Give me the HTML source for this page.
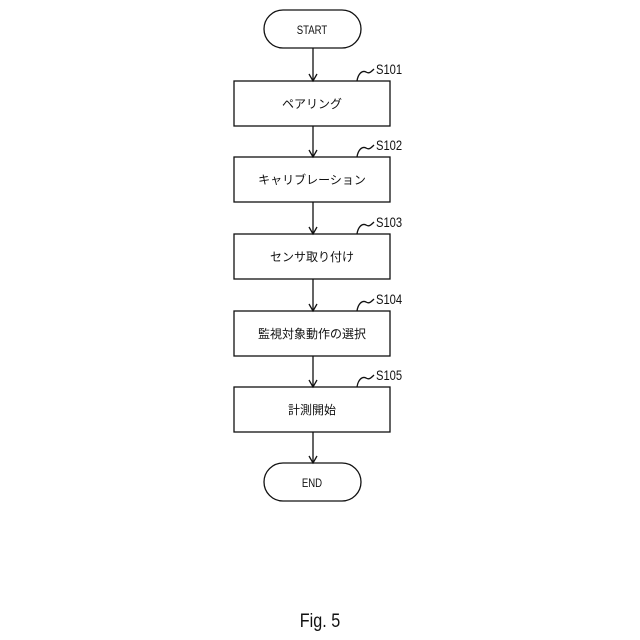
<!DOCTYPE html>
<html><head><meta charset="utf-8"><style>
html,body{margin:0;padding:0;background:#fff;}
svg{display:block;}
text{font-family:"Liberation Sans","Noto Sans CJK JP",sans-serif;fill:#111;}
</style></head><body>
<svg width="640" height="640" viewBox="0 0 640 640" xmlns="http://www.w3.org/2000/svg">
<g fill="none" stroke="#111" stroke-width="1.3">
<rect x="264" y="10" width="97" height="38" rx="19"/>
<rect x="264" y="463" width="97" height="38" rx="19"/>
<rect x="234" y="81" width="156" height="45"/>
<rect x="234" y="157" width="156" height="45"/>
<rect x="234" y="234" width="156" height="45"/>
<rect x="234" y="311" width="156" height="45"/>
<rect x="234" y="387" width="156" height="45"/>
<path d="M313 48V81M313 126V157M313 202V234M313 279V311M313 356V387M313 432V463"/>
<path d="M309 74L313 81L317 74M309 150L313 157L317 150M309 227L313 234L317 227M309 304L313 311L317 304M309 380L313 387L317 380M309 456L313 463L317 456"/>
<path d="M357 81C358 74,362 70,366 72C369 74,371 72,374 69"/>
<path d="M357 157C358 150,362 146,366 148C369 150,371 148,374 145"/>
<path d="M357 234C358 227,362 223,366 225C369 227,371 225,374 222"/>
<path d="M357 311C358 304,362 300,366 302C369 304,371 302,374 299"/>
<path d="M357 387C358 380,362 376,366 378C369 380,371 378,374 375"/>
</g>
<g font-size="12" text-anchor="middle">
<text x="312" y="34" transform="translate(312 0) scale(0.8 1) translate(-312 0)">START</text>
<text x="312" y="487" transform="translate(312 0) scale(0.8 1) translate(-312 0)">END</text>
<text x="312" y="108">ペアリング</text>
<text x="312" y="184">キャリブレーション</text>
<text x="312" y="261">センサ取り付け</text>
<text x="312" y="338">監視対象動作の選択</text>
<text x="312" y="414">計測開始</text>
</g>
<g font-size="14">
<text x="376" y="74" transform="translate(376 0) scale(0.8 1) translate(-376 0)">S101</text>
<text x="376" y="150" transform="translate(376 0) scale(0.8 1) translate(-376 0)">S102</text>
<text x="376" y="227" transform="translate(376 0) scale(0.8 1) translate(-376 0)">S103</text>
<text x="376" y="304" transform="translate(376 0) scale(0.8 1) translate(-376 0)">S104</text>
<text x="376" y="380" transform="translate(376 0) scale(0.8 1) translate(-376 0)">S105</text>
</g>
<text x="320" y="627" font-size="19" text-anchor="middle" transform="translate(320 0) scale(0.85 1) translate(-320 0)">Fig. 5</text>
</svg>
</body></html>
